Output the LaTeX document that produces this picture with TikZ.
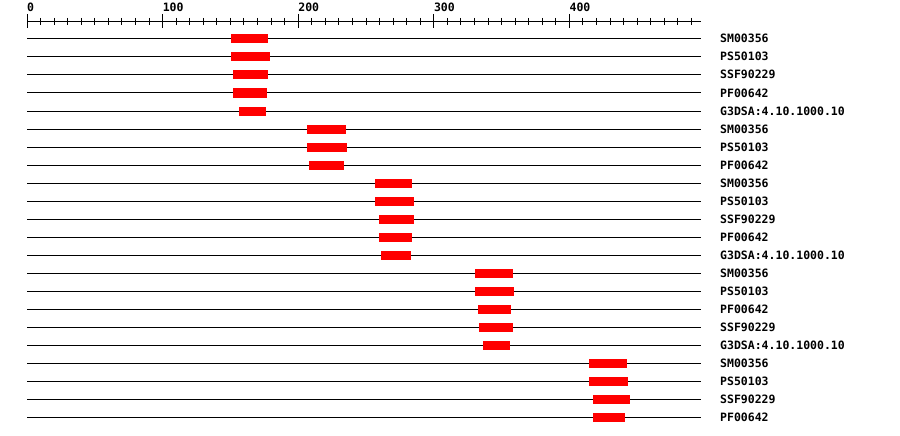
\documentclass[tikz,border=0pt]{standalone}
\usepackage{fontspec}
\setmonofont{DejaVu Sans Mono}
\begin{document}
\begin{tikzpicture}[x=1pt,y=-1pt,
  seqline/.style={line width=1pt,black},
  domainbar/.style={fill={rgb,255:red,255;green,0;blue,0},draw=none},
  lab/.style={anchor=base west,inner sep=0pt,font=\ttfamily\bfseries\fontsize{11.5}{12}\selectfont},
  tickline/.style={line width=1pt,black}]
\useasboundingbox (0,0) rectangle (900,436);
% ruler
\coordinate (r0) at (27,22);
\coordinate (r1) at (701,22);
\draw[tickline] (r0) -- (r1);
\foreach \k in {0,...,49}{
  \pgfmathsetmacro{\xx}{27+\k*13.56}
  \draw[tickline] (\xx,18) -- (\xx,25);
}
\foreach \k/\t in {0/0,1/100,2/200,3/300,4/400}{
  \pgfmathsetmacro{\xx}{27+\k*135.6}
  \draw[tickline] (\xx,14) -- (\xx,28);
  \node[lab] (rl\k) at (\xx,12) {\t};
}
% rows
\foreach [count=\i from 0] \a/\b/\t in {
 231/268/SM00356, 231/270/PS50103, 233/268/SSF90229, 233/267/PF00642, 239/266/G3DSA:4.10.1000.10,
 307/346/SM00356, 307/347/PS50103, 309/344/PF00642,
 375/412/SM00356, 375/414/PS50103, 379/414/SSF90229, 379/412/PF00642, 381/411/G3DSA:4.10.1000.10,
 475/513/SM00356, 475/514/PS50103, 478/511/PF00642, 479/513/SSF90229, 483/510/G3DSA:4.10.1000.10,
 589/627/SM00356, 589/628/PS50103, 593/630/SSF90229, 593/625/PF00642}{
  \pgfmathsetmacro{\yy}{39+\i*18}
  \coordinate (s\i) at (27,\yy);
  \coordinate (e\i) at (701,\yy);
  \draw[seqline] (s\i) -- (e\i);
  \path[domainbar] (\a,\yy-4.5) rectangle (\b,\yy+4.5);
  \node[lab] (l\i) at (720,\yy+4) {\t};
}
\end{tikzpicture}
\end{document}
